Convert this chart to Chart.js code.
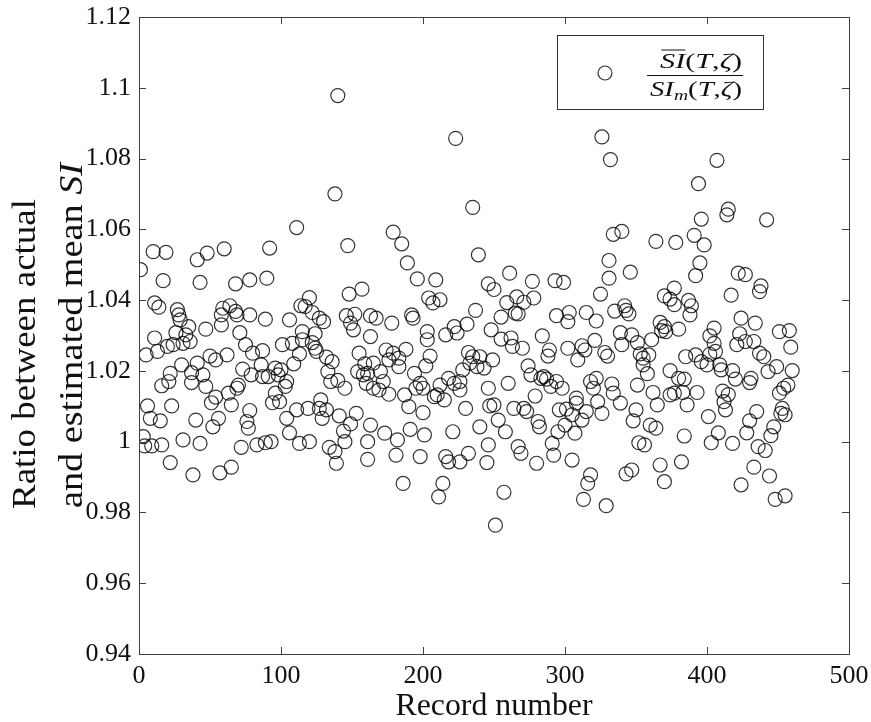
<!DOCTYPE html>
<html>
<head>
<meta charset="utf-8">
<script src="https://cdn.jsdelivr.net/npm/chart.js@4.4.1/dist/chart.umd.min.js"></script>
<style>
  html, body { margin: 0; padding: 0; background: #fff; }
  canvas { display: block; }
</style>
</head>
<body>
<canvas id="myCanvas" width="871" height="722"></canvas>
<script>
// record number (x) and ratio actual / estimated mean SI (y)
let recordNumber = [
  1, 3, 4, 5, 6, 8, 9, 10, 11, 11, 13, 14, 15, 16, 16, 17, 19, 20, 21, 22,
  22, 23, 24, 26, 27, 28, 29, 30, 31, 31, 33, 35, 36, 37, 37, 38, 40, 41, 41, 43,
  43, 45, 47, 47, 48, 50, 51, 52, 54, 54, 56, 57, 58, 58, 59, 60, 62, 63, 64, 65,
  65, 68, 68, 69, 69, 70, 71, 72, 73, 75, 76, 77, 78, 78, 79, 78, 80,
  83, 86, 87, 87, 89, 89, 90, 91, 92, 93, 94, 96, 96, 99, 100, 98, 101, 103, 104, 104,
  106, 106, 108, 109, 111, 111, 113, 113, 114, 115, 115, 117, 119, 120, 120, 122, 122, 124, 124, 125,
  127, 127, 128, 129, 130, 132, 132, 133, 134, 135, 136, 138, 138, 139, 140, 140, 141, 144, 145, 145,
  146, 147, 148, 149, 149, 151, 152, 153, 154, 155, 157, 158, 159, 160, 161, 161, 161, 163, 163, 163,
  165, 165, 167, 169, 170, 172, 173, 174, 176, 176, 178, 179, 179, 181, 182, 183, 183, 185, 186, 187,
  188, 189, 190, 191, 192, 193, 194, 195, 196, 198, 198, 200, 200, 201, 202, 203, 203, 204, 205, 207,
  208, 209, 210, 211, 212, 212, 214, 215, 216, 216, 218, 218, 221, 222, 222, 223, 224, 226, 226, 226,
  228, 230, 231, 232, 232, 233, 235, 235, 237, 238, 239, 240, 240, 243, 245, 246, 246, 247, 250, 246,
  250, 248, 249, 251,
  253, 255, 255, 257, 258, 259, 260, 261, 262, 263, 264, 265, 266, 267, 267, 269, 270, 271, 271, 273,
  274, 276, 277, 278, 279, 280, 281, 282, 283, 284, 285, 287, 288, 289, 290, 291, 292, 293, 294, 294,
  295, 296, 298, 299, 300, 301, 302, 302, 303, 305, 305, 307, 308, 308, 309, 312, 312, 313, 314, 315,
  315, 316, 318, 318, 320, 321, 322, 322, 323, 325, 326, 326, 329, 328, 330, 331, 331, 332, 333, 334,
  334, 335,
  339, 339, 340, 340, 342, 343, 343, 345, 346, 347, 347, 348, 350, 351, 351, 352, 353, 355, 355, 356,
  358, 359, 360, 361, 362, 364, 364, 365, 367, 367, 368, 370, 370, 370, 371, 374, 374, 374, 377, 377,
  377, 378, 380, 380, 382, 383, 384, 384, 385, 386, 387, 388, 389, 391, 392, 392, 393, 394, 395, 396,
  396, 398, 400, 401, 402, 402, 403, 405, 405, 406, 407, 408, 409, 410, 411, 412, 413, 414, 415, 415,
  417, 418,
  418, 420, 421, 422, 423, 424, 424, 427, 427, 428, 430, 430, 431, 433, 433, 434, 435, 436, 437, 437,
  438, 440, 441, 442, 443, 444, 445, 447, 448, 449, 451, 451, 452, 453, 454, 455, 455, 457, 458, 459,
  460
];

let ratio = [
  1.0486, 1.0014, 0.9988, 1.0245, 1.0101, 1.0066, 0.9988, 1.0537, 1.0293, 1.0392, 1.0255, 1.0380, 1.0059, 0.9991, 1.0158, 1.0455, 1.0535, 1.0269, 1.0170, 1.0193,
  0.9941, 1.0101, 1.0274, 1.0308, 1.0373, 1.0358, 1.0344, 1.0217, 1.0278, 1.0005, 1.0302, 1.0325, 1.0283, 1.0195, 1.0167, 0.9906, 1.0061, 1.0514, 1.0222, 0.9995,
  1.0450, 1.0189, 1.0156, 1.0318, 1.0533, 1.0242, 1.0110, 1.0042, 1.0231, 1.0126, 1.0066, 0.9912, 1.0358, 1.0330, 1.0377, 1.0545, 1.0245, 1.0137, 1.0384, 0.9928,
  1.0104, 1.0446, 1.0368, 1.0358, 1.0151, 1.0160, 1.0308, 0.9984, 1.0205, 1.0274, 1.0057, 1.0038, 1.0457, 1.0358, 1.0189, 1.0088, 1.0250,
  0.9991, 1.0217, 1.0257, 1.0184, 1.0346, 0.9997, 1.0462, 1.0184, 1.0547, 1.0000, 1.0110, 1.0208, 1.0137, 1.0113, 1.0203, 1.0189, 1.0274, 1.0156, 1.0170, 1.0066,
  1.0344, 1.0025, 1.0278, 1.0220, 1.0090, 1.0605, 0.9995, 1.0248, 1.0384, 1.0311, 1.0288, 1.0382, 1.0094, 1.0000, 1.0407, 1.0280, 1.0365, 1.0305, 1.0264, 1.0255,
  1.0349, 1.0094, 1.0118, 1.0066, 1.0339, 1.0239, 1.0090, 1.0198, 0.9984, 1.0170, 1.0226, 0.9972, 1.0700, 0.9939, 1.0978, 1.0173, 1.0073, 1.0030, 1.0000, 1.0151,
  1.0356, 1.0554, 1.0417, 1.0335, 1.0050, 1.0316, 1.0360, 1.0080, 1.0198, 1.0250, 1.0431, 1.0189, 1.0220, 1.0165, 1.0193, 1.0000, 0.9950, 1.0356, 1.0297, 1.0047,
  1.0222, 1.0151, 1.0349, 1.0146, 1.0198, 1.0170, 1.0024, 1.0259, 1.0231, 1.0134, 1.0335, 1.0250, 1.0592, 0.9962, 1.0005, 1.0236, 1.0212, 1.0559, 0.9882, 1.0132,
  1.0261, 1.0505, 1.0099, 1.0035, 1.0358, 1.0349, 1.0193, 1.0151, 1.0460, 1.0165, 0.9958, 1.0151, 1.0082, 1.0019, 1.0214, 1.0311, 1.0288, 1.0406, 1.0242, 1.0392,
  1.0127, 1.0457, 1.0132, 0.9844, 1.0401, 1.0160, 0.9882, 1.0118, 1.0302, 0.9958, 1.0179, 0.9943, 1.0028, 1.0325, 1.0165, 1.0857, 1.0307, 1.0170, 1.0146, 0.9943,
  1.0203, 1.0094, 1.0332, 0.9967, 1.0252, 1.0222, 1.0240, 1.0662, 1.0371, 1.0212, 1.0528, 1.0240, 1.0042, 1.0208, 0.9941, 1.0151, 0.9991, 1.0101, 1.0104, 1.0446,
  1.0430, 1.0316, 1.0231, 0.9764,
  1.0061, 1.0352, 1.0290, 0.9857, 1.0028, 1.0393, 1.0165, 1.0476, 1.0293, 1.0269, 1.0094, 1.0363, 1.0409, 1.0361, 0.9986, 0.9967, 1.0264, 1.0394, 1.0094, 1.0085,
  1.0214, 1.0189, 1.0453, 1.0406, 1.0129, 0.9939, 1.0057, 1.0042, 1.0179, 1.0299, 1.0184, 1.0177, 1.0242, 1.0259, 1.0156, 0.9995, 0.9962, 1.0455, 1.0356, 1.0170,
  1.0028, 1.0090, 1.0151, 1.0450, 1.0047, 1.0092, 1.0264, 1.0339, 1.0365, 1.0076, 0.9948, 1.0024, 1.0109, 1.0123, 1.0231, 1.0271, 1.0061, 0.9837, 1.0259, 1.0365,
  1.0085, 0.9882, 0.9906, 1.0170, 1.0151, 1.0286, 1.0341, 1.0179, 1.0113, 1.0417, 1.0080, 1.0861, 0.9819, 1.0252, 1.0242, 1.0512, 1.0462, 1.0797, 1.0163, 1.0137,
  1.0586, 1.0369,
  1.0308, 1.0109, 1.0274, 1.0594, 1.0384, 1.0371, 0.9909, 1.0361, 1.0479, 1.0302, 0.9920, 1.0059, 1.0090, 1.0160, 1.0280, 0.9997, 1.0248, 1.0236, 1.0217, 0.9991,
  1.0192, 1.0245, 1.0047, 1.0288, 1.0139, 1.0038, 1.0566, 1.0104, 1.0337, 0.9934, 1.0314, 1.0412, 1.0325, 0.9887, 1.0311, 1.0201, 1.0403, 1.0132, 1.0387, 1.0434,
  1.0137, 1.0563, 1.0179, 1.0318, 0.9943, 1.0139, 1.0016, 1.0177, 1.0240, 1.0104, 1.0399, 1.0358, 1.0384, 1.0583, 1.0245, 1.0469, 1.0139, 1.0729, 1.0505, 1.0226,
  1.0629, 1.0556, 1.0217, 1.0071, 1.0299, 1.0247, 0.9997, 1.0321, 1.0278, 1.0255, 1.0795, 1.0025, 1.0217, 1.0203, 1.0143, 1.0113, 1.0090, 1.0641, 1.0657, 1.0133,
  1.0414, 0.9995,
  1.0201, 1.0177, 1.0274, 1.0476, 1.0305, 1.0349, 0.9878, 1.0472, 1.0283, 1.0025, 1.0167, 1.0059, 1.0179, 1.0283, 0.9928, 1.0335, 1.0085, 0.9986, 1.0424, 1.0250,
  1.0440, 1.0240, 0.9975, 1.0627, 1.0198, 0.9903, 1.0017, 1.0042, 0.9837, 1.0212, 1.0311, 1.0137, 1.0080, 1.0094, 1.0151, 1.0076, 0.9847, 1.0160, 1.0314, 1.0267,
  1.0201
];

let xTicks = [0, 100, 200, 300, 400, 500];
let yTicks = [0.94, 0.96, 0.98, 1, 1.02, 1.04, 1.06, 1.08, 1.1, 1.12];

const SERIF = '"Liberation Serif", "DejaVu Serif", serif';

// draws a row of text pieces with mixed fonts, stretched to a given width
function drawRuns(ctx, runs, x, y, width, align) {
  let total = 0;
  runs.forEach(r => { ctx.font = r.font; total += ctx.measureText(r.text).width + (r.gap || 0); });
  let s = width ? width / total : 1;
  let start = align === 'center' ? x - total * s / 2 : x;
  ctx.save();
  ctx.translate(start, y);
  ctx.scale(s, 1);
  let cx = 0;
  runs.forEach(r => {
    ctx.font = r.font;
    ctx.textAlign = 'left';
    ctx.textBaseline = 'alphabetic';
    let w = ctx.measureText(r.text).width;
    ctx.fillText(r.text, cx, r.dy || 0);
    if (r.overline) {
      ctx.beginPath();
      ctx.lineWidth = 1;
      ctx.moveTo(cx + 1, r.overline);
      ctx.lineTo(cx + w, r.overline);
      ctx.stroke();
    }
    cx += w + (r.gap || 0);
  });
  ctx.restore();
}

const decorations = {
  id: 'decorations',
  afterDraw(chart) {
    const ctx = chart.ctx;
    const a = chart.chartArea;
    const sx = chart.scales.x, sy = chart.scales.y;
    ctx.save();
    ctx.strokeStyle = '#404040';
    ctx.fillStyle = '#111';
    ctx.lineWidth = 1;

    // box + inner ticks (matlab style)
    ctx.strokeRect(a.left + 0.5, a.top + 0.5, a.right - a.left, a.bottom - a.top);
    ctx.beginPath();
    xTicks.forEach(v => {
      let px = Math.round(sx.getPixelForValue(v)) + 0.5;
      ctx.moveTo(px, a.bottom); ctx.lineTo(px, a.bottom - 7);
      ctx.moveTo(px, a.top); ctx.lineTo(px, a.top + 7);
    });
    yTicks.forEach(v => {
      let py = Math.round(sy.getPixelForValue(v)) + 0.5;
      ctx.moveTo(a.left, py); ctx.lineTo(a.left + 7, py);
      ctx.moveTo(a.right, py); ctx.lineTo(a.right - 7, py);
    });
    ctx.stroke();

    // axis titles
    drawRuns(ctx, [{ text: 'Record number', font: '31px ' + SERIF }], 494, 715, 197, 'center');

    ctx.save();
    ctx.translate(35, 509);
    ctx.rotate(-Math.PI / 2);
    drawRuns(ctx, [{ text: 'Ratio between actual', font: '33px ' + SERIF }], 0, 0, 310, 'left');
    ctx.restore();
    ctx.save();
    ctx.translate(82, 508);
    ctx.rotate(-Math.PI / 2);
    drawRuns(ctx, [
      { text: 'and estimated mean ', font: '33px ' + SERIF },
      { text: 'SI', font: 'italic 33px ' + SERIF }
    ], 0, 0, 345, 'left');
    ctx.restore();

    // legend box
    let lx = 557, ly = 35, lw = 206, lh = 74;
    ctx.fillStyle = '#fff';
    ctx.fillRect(lx, ly, lw, lh);
    ctx.strokeStyle = '#333';
    ctx.strokeRect(lx + 0.5, ly + 0.5, lw, lh);
    ctx.beginPath();
    ctx.strokeStyle = 'rgba(0,0,0,0.8)';
    ctx.lineWidth = 1.2;
    ctx.arc(605, 73, 7, 0, Math.PI * 2);
    ctx.stroke();

    ctx.fillStyle = '#111';
    ctx.strokeStyle = '#111';
    let it = 'italic 22px ' + SERIF, rm = '22px ' + SERIF;
    drawRuns(ctx, [
      { text: 'SI', font: it, overline: -18 },
      { text: '(', font: rm },
      { text: 'T', font: it },
      { text: ',', font: rm },
      { text: 'ζ', font: it },
      { text: ')', font: rm }
    ], 701, 68, 82, 'center');
    ctx.beginPath();
    ctx.lineWidth = 1;
    ctx.moveTo(647, 75.5);
    ctx.lineTo(743, 75.5);
    ctx.stroke();
    drawRuns(ctx, [
      { text: 'SI', font: it },
      { text: 'm', font: 'italic 15px ' + SERIF, dy: 4 },
      { text: '(', font: rm },
      { text: 'T', font: it },
      { text: ',', font: rm },
      { text: 'ζ', font: it },
      { text: ')', font: rm }
    ], 696, 96, 92, 'center');
    ctx.restore();
  }
};

let myCanvas = document.getElementById('myCanvas').getContext('2d');

let chart = new Chart(myCanvas, {
  type: 'scatter',
  data: {
    datasets: [{
      label: 'SI ratio',
      data: recordNumber.map((r, i) => ({ x: r, y: ratio[i] })),
      pointStyle: 'circle',
      pointRadius: 7,
      pointHoverRadius: 7,
      borderWidth: 1.2,
      borderColor: 'rgba(0,0,0,0.8)',
      backgroundColor: 'rgba(0,0,0,0)'
    }]
  },
  options: {
    responsive: false,
    animation: false,
    layout: { padding: { top: 17, right: 22, bottom: 0, left: 0 } },
    plugins: {
      legend: { display: false },
      tooltip: { enabled: false },
      title: { display: false }
    },
    scales: {
      x: {
        type: 'linear',
        min: 0,
        max: 500,
        grid: { display: false, drawTicks: false },
        border: { display: false },
        ticks: {
          stepSize: 100,
          padding: 7,
          maxRotation: 0,
          color: '#111',
          font: { family: SERIF, size: 26 }
        },
        afterFit(scale) {
          scale.height = 68;
          scale.paddingLeft = 0;
          scale.paddingRight = 0;
        }
      },
      y: {
        min: 0.94,
        max: 1.12,
        grid: { display: false, drawTicks: false },
        border: { display: false },
        ticks: {
          stepSize: 0.02,
          padding: 8,
          color: '#111',
          font: { family: SERIF, size: 26 },
          callback: v => String(+v.toFixed(2))
        },
        afterFit(scale) {
          scale.width = 139;
          scale.paddingTop = 0;
          scale.paddingBottom = 0;
        }
      }
    }
  },
  plugins: [decorations]
});
</script>
</body>
</html>
